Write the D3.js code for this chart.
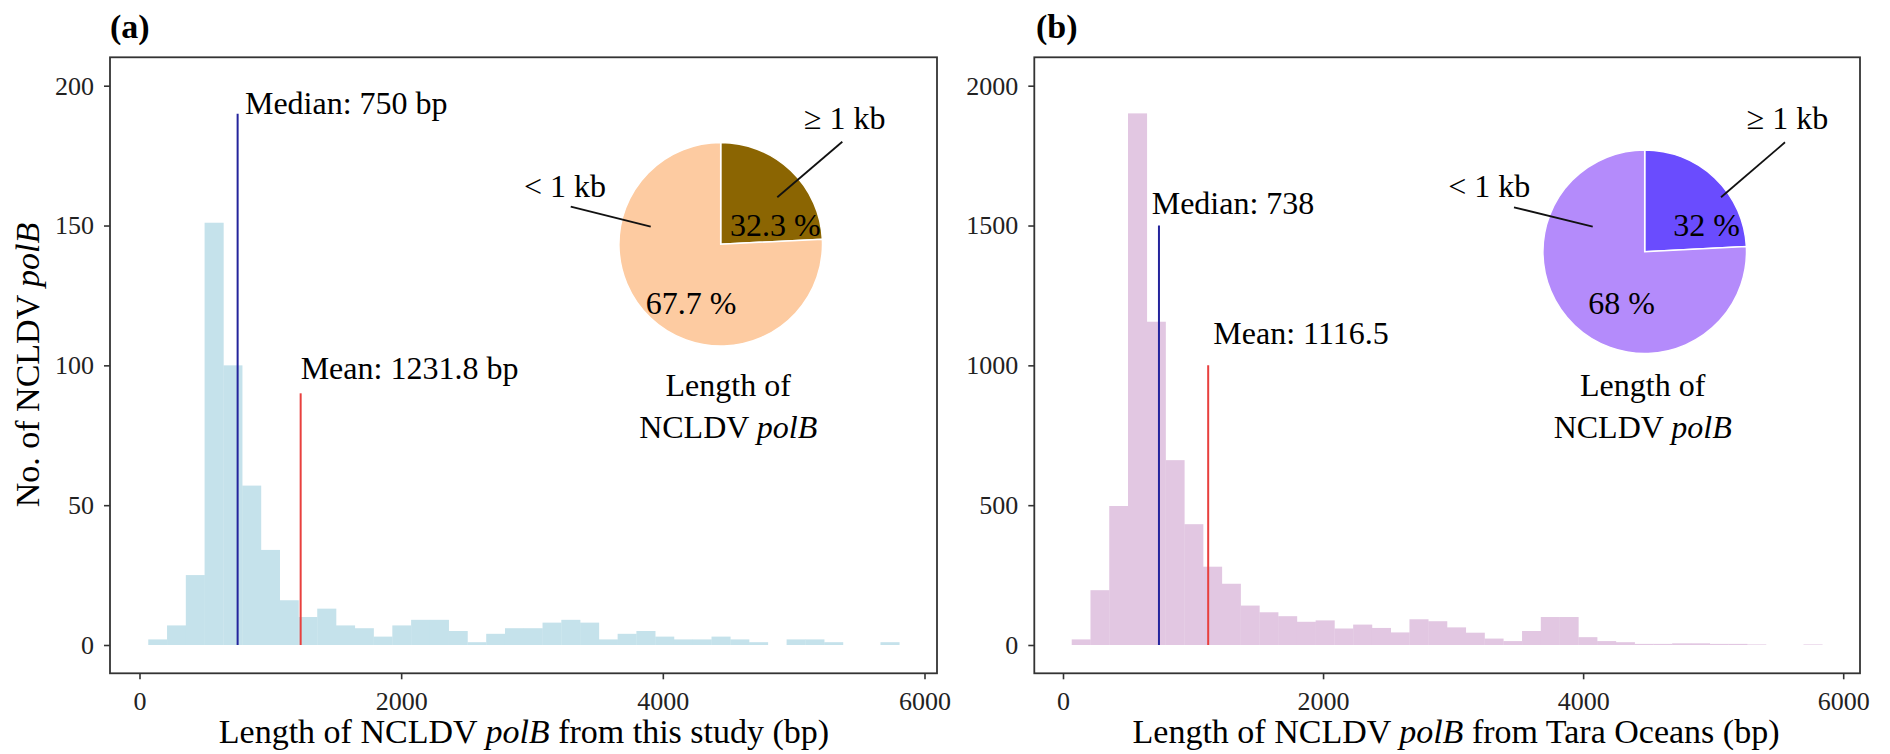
<!DOCTYPE html>
<html>
<head>
<meta charset="utf-8">
<script src="https://cdn.jsdelivr.net/npm/d3@7"></script>
<style>
    body { margin: 0; background: #fff; }
    svg { display: block; font-family: "Liberation Serif", "Times New Roman", serif; }
</style>
</head>
<body>
<svg id="chart" width="1890" height="754"></svg>
<script>
(function () {

    // histogram bins (bp): first edge and width, counts
    var binStartA = 67, binWidthA = 143.5;
    var countsA = [2, 7, 25, 151, 100, 57, 34, 16, 10, 13, 7, 6, 3, 7, 9, 9, 5, 1, 4, 6,
                   6, 8, 9, 8, 2, 4, 5, 3, 2, 2, 3, 2, 1, 0, 2, 2, 1, 0, 0, 1];
    var binStartB = 67, binWidthB = 144.3;
    var countsB = [20, 196, 497, 1901, 1156, 661, 432, 280, 219, 141, 117, 103, 83, 88, 59, 73, 61, 45, 92, 85,
                   63, 44, 23, 14, 50, 100, 100, 28, 14, 10, 4, 4, 6, 6, 4, 4, 2, 0, 0, 2];

    var xTicks = [0, 2000, 4000, 6000];
    var yTicksA = [0, 50, 100, 150, 200];
    var yTicksB = [0, 500, 1000, 1500, 2000];

    // reference lines: [x, top]
    var medianA = [750, 190], meanA = [1231.8, 90];
    var medianB = [738, 1500], meanB = [1116.5, 1000];
    var medianTextA = 'Median: 750 bp', meanTextA = 'Mean: 1231.8 bp';
    var medianTextB = 'Median: 738', meanTextB = 'Mean: 1116.5';

    // pie: slice shares as drawn, and the printed labels
    var pieSharesA = [24.2, 75.8];
    var pieLabelsA = ['32.3 %', '67.7 %'];
    var pieSharesB = [24.2, 75.8];
    var pieLabelsB = ['32 %', '68 %'];
    var pieCats = ['\u2265 1 kb', '< 1 kb'];

    var svg = d3.select('#chart');
    var FONT_TICK = 26, FONT_ANN = 32, FONT_TITLE = 34;

    drawPanel({
        tag: '(a)', tagX: 110, box: [110, 57.3, 937, 673.3],
        xr: [139.5, 924.5], counts: countsA, start: binStartA, width: binWidthA,
        yDomain: [0, 200], yTicks: yTicksA, fill: '#c5e2eb',
        median: medianA, mean: meanA, medianText: medianTextA, meanText: meanTextA,
        medianPos: [806, 190], meanPos: [1231.8, 95],
        xTitle: 'from this study (bp)', xTitleX: 524, yTitle: true,
        pie: { cx: 720.7, cy: 244.3, shares: pieSharesA, labels: pieLabelsA, colors: ['#8b6502', '#fdcba1'],
               geLine: [121.6, -102.6, 56.6, -47], ltLine: [-150, -37.6, -70, -17.6],
               geText: [83.3, -115], ltText: [-196.7, -47], p0: [9.3, -8.6], p1: [-75, 69.7],
               title: [7.5, 151.7] }
    });

    drawPanel({
        tag: '(b)', tagX: 1036, box: [1034.3, 57.3, 1860, 673.3],
        xr: [1063, 1843.2], counts: countsB, start: binStartB, width: binWidthB,
        yDomain: [0, 2000], yTicks: yTicksB, fill: '#e2c7e2',
        median: medianB, mean: meanB, medianText: medianTextB, meanText: meanTextB,
        medianPos: [682, 1540], meanPos: [1156, 1078],
        xTitle: 'from Tara Oceans (bp)', xTitleX: 1456, yTitle: false,
        pie: { cx: 1644.7, cy: 251.7, shares: pieSharesB, labels: pieLabelsB, colors: ['#6a4cfe', '#b48bfb'],
               geLine: [140.3, -109.4, 76.3, -54.4], ltLine: [-130.7, -44.4, -52, -25],
               geText: [102, -122.4], ltText: [-196.4, -54.4], p0: [28.6, -16], p1: [-56.4, 62.3],
               title: [-2, 144.3] }
    });

    function drawPanel(p) {
        var g = svg.append('g');
        var x = d3.scaleLinear().domain([0, 6000]).range(p.xr);
        var y = d3.scaleLinear().domain(p.yDomain).range([645, 85.7]);

        // bars
        g.append('g').selectAll('rect')
            .data(p.counts)
            .enter().append('rect')
            .attr('x', function(d, i) { return x(p.start + i * p.width); })
            .attr('width', function(d, i) { return x(p.start + (i + 1) * p.width) - x(p.start + i * p.width) + 0.3; })
            .attr('y', function(d) { return y(d); })
            .attr('height', function(d) { return y(0) - y(d); })
            .attr('fill', p.fill);

        // median / mean
        [[p.median, '#24249c'], [p.mean, '#e8403e']].forEach(function(l) {
            g.append('line')
                .attr('x1', x(l[0][0])).attr('x2', x(l[0][0]))
                .attr('y1', y(0)).attr('y2', y(l[0][1]))
                .attr('stroke', l[1]).attr('stroke-width', 2);
        });
        g.append('text').attr('x', x(p.medianPos[0])).attr('y', y(p.medianPos[1]))
            .attr('font-size', FONT_ANN).text(p.medianText);
        g.append('text').attr('x', x(p.meanPos[0])).attr('y', y(p.meanPos[1]))
            .attr('font-size', FONT_ANN).text(p.meanText);

        drawPie(g, p.pie);

        // frame
        var b = p.box;
        g.append('rect')
            .attr('x', b[0]).attr('y', b[1])
            .attr('width', b[2] - b[0]).attr('height', b[3] - b[1])
            .attr('fill', 'none').attr('stroke', '#333').attr('stroke-width', 1.8);

        // axes
        var xAxis = g.append('g')
            .attr('transform', 'translate(0,' + b[3] + ')')
            .call(d3.axisBottom(x).tickValues(xTicks).tickSize(6).tickFormat(d3.format('d')));
        xAxis.select('.domain').remove();
        xAxis.selectAll('line').attr('stroke', '#333').attr('stroke-width', 1.6);
        xAxis.selectAll('text')
            .attr('font-family', 'Liberation Serif, Times New Roman, serif')
            .attr('font-size', FONT_TICK).attr('fill', '#222')
            .attr('y', 18).attr('dy', '0.71em');

        var yAxis = g.append('g')
            .attr('transform', 'translate(' + b[0] + ',0)')
            .call(d3.axisLeft(y).tickValues(p.yTicks).tickSize(6).tickFormat(d3.format('d')));
        yAxis.select('.domain').remove();
        yAxis.selectAll('line').attr('stroke', '#333').attr('stroke-width', 1.6);
        yAxis.selectAll('text')
            .attr('font-family', 'Liberation Serif, Times New Roman, serif')
            .attr('font-size', FONT_TICK).attr('fill', '#222')
            .attr('x', -16);

        // titles
        var xt = g.append('text')
            .attr('x', p.xTitleX).attr('y', 742.7)
            .attr('text-anchor', 'middle').attr('font-size', FONT_TITLE);
        xt.append('tspan').text('Length of NCLDV ');
        xt.append('tspan').attr('font-style', 'italic').text('polB');
        xt.append('tspan').text(' ' + p.xTitle);

        if (p.yTitle) {
            var yt = g.append('text')
                .attr('transform', 'translate(39,365) rotate(-90)')
                .attr('text-anchor', 'middle').attr('font-size', FONT_TITLE);
            yt.append('tspan').text('No. of NCLDV ');
            yt.append('tspan').attr('font-style', 'italic').text('polB');
        }

        g.append('text')
            .attr('x', p.tagX).attr('y', 38)
            .attr('font-size', 34).attr('font-weight', 'bold')
            .text(p.tag);
    }

    function drawPie(g, c) {
        var pg = g.append('g').attr('transform', 'translate(' + c.cx + ',' + c.cy + ')');
        var arcs = d3.pie().sort(null).value(function(d) { return d; })(c.shares);
        var arc = d3.arc().innerRadius(0).outerRadius(101.8);

        pg.selectAll('path')
            .data(arcs)
            .enter().append('path')
            .attr('d', arc)
            .attr('fill', function(d, i) { return c.colors[i]; })
            .attr('stroke', '#fff').attr('stroke-width', 1.5);

        [c.geLine, c.ltLine].forEach(function(l) {
            pg.append('line')
                .attr('x1', l[0]).attr('y1', l[1]).attr('x2', l[2]).attr('y2', l[3])
                .attr('stroke', '#111').attr('stroke-width', 1.8);
        });

        pg.append('text').attr('x', c.geText[0]).attr('y', c.geText[1])
            .attr('font-size', FONT_ANN).text(pieCats[0]);
        pg.append('text').attr('x', c.ltText[0]).attr('y', c.ltText[1])
            .attr('font-size', FONT_ANN).text(pieCats[1]);
        pg.append('text').attr('x', c.p0[0]).attr('y', c.p0[1])
            .attr('font-size', FONT_ANN).text(c.labels[0]);
        pg.append('text').attr('x', c.p1[0]).attr('y', c.p1[1])
            .attr('font-size', FONT_ANN).text(c.labels[1]);

        pg.append('text').attr('x', c.title[0]).attr('y', c.title[1])
            .attr('text-anchor', 'middle').attr('font-size', FONT_ANN).text('Length of');
        var t2 = pg.append('text').attr('x', c.title[0]).attr('y', c.title[1] + 42)
            .attr('text-anchor', 'middle').attr('font-size', FONT_ANN);
        t2.append('tspan').text('NCLDV ');
        t2.append('tspan').attr('font-style', 'italic').text('polB');
    }
})();
</script>
</body>
</html>
